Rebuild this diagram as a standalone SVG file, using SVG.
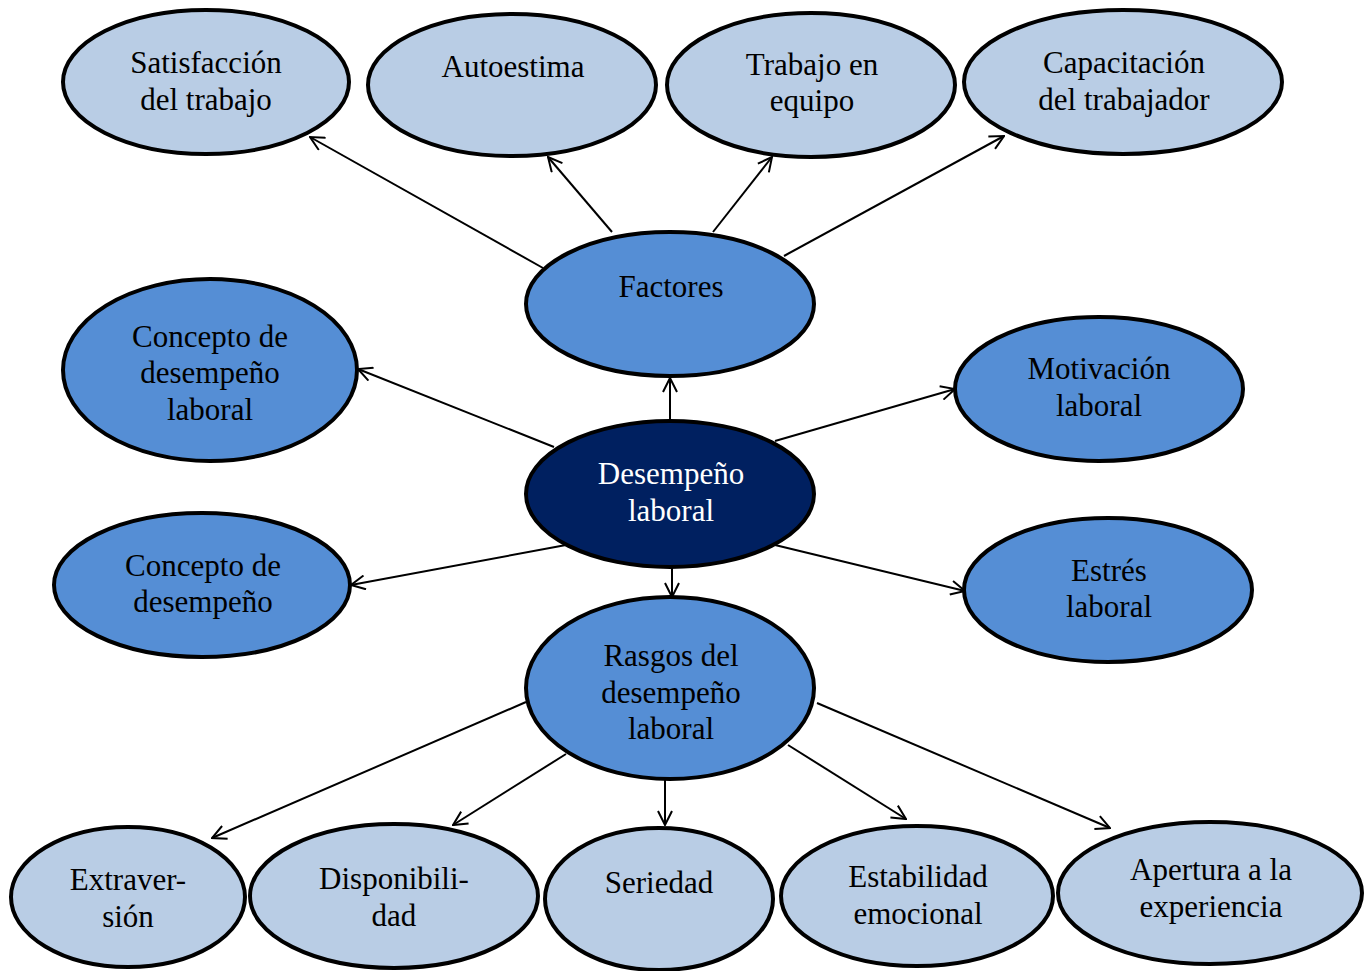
<svg xmlns="http://www.w3.org/2000/svg" width="1371" height="971" viewBox="0 0 1371 971">
<style>
.n ellipse{stroke:#000;stroke-width:4}
.l ellipse{fill:#B9CDE5}
.m ellipse{fill:#558ED5}
.d ellipse{fill:#002060}
text{font-family:"Liberation Serif","Times New Roman",serif;font-size:31px;text-anchor:middle;fill:#000}
.d text{fill:#fff}
#connectors line{stroke:#000;stroke-width:2;marker-end:url(#arr)}
</style>
<defs>
<marker id="arr" viewBox="0 0 16 16" refX="15" refY="8" markerWidth="16" markerHeight="16" orient="auto" markerUnits="userSpaceOnUse">
<path d="M1,1 L15,8 L1,15" fill="none" stroke="#000" stroke-width="2"/>
</marker>
</defs>
<rect width="1371" height="971" fill="#fff"/>
<g id="connectors">
<line x1="543" y1="268" x2="310" y2="137"/>
<line x1="612" y1="232" x2="548" y2="157"/>
<line x1="713" y1="232" x2="772" y2="157"/>
<line x1="784" y1="256" x2="1004" y2="136"/>
<line x1="670" y1="421" x2="670" y2="378"/>
<line x1="554" y1="447" x2="358" y2="369"/>
<line x1="775" y1="441" x2="955" y2="389"/>
<line x1="566" y1="545" x2="351" y2="585"/>
<line x1="775" y1="545" x2="965" y2="591"/>
<line x1="672" y1="568" x2="672" y2="597"/>
<line x1="526" y1="702" x2="212" y2="838"/>
<line x1="566" y1="754" x2="453" y2="825"/>
<line x1="665" y1="779" x2="665" y2="825"/>
<line x1="788" y1="745" x2="906" y2="819"/>
<line x1="817" y1="703" x2="1110" y2="828"/>
</g>
<g id="satisfaccion" class="n l"><ellipse cx="206" cy="82" rx="143" ry="72"/><text x="206" y="73">Satisfacción</text><text x="206" y="110">del trabajo</text></g>
<g id="autoestima" class="n l"><ellipse cx="512" cy="85" rx="144" ry="71"/><text x="513" y="77">Autoestima</text></g>
<g id="trabajo" class="n l"><ellipse cx="811" cy="85" rx="144" ry="72"/><text x="812" y="75">Trabajo en</text><text x="812" y="111">equipo</text></g>
<g id="capacitacion" class="n l"><ellipse cx="1123" cy="82" rx="159" ry="72"/><text x="1124" y="73">Capacitación</text><text x="1124" y="110">del trabajador</text></g>
<g id="factores" class="n m"><ellipse cx="670" cy="304" rx="144" ry="72"/><text x="671" y="297">Factores</text></g>
<g id="concepto-laboral" class="n m"><ellipse cx="210" cy="370" rx="147" ry="91"/><text x="210" y="347">Concepto de</text><text x="210" y="383">desempeño</text><text x="210" y="420">laboral</text></g>
<g id="motivacion" class="n m"><ellipse cx="1099" cy="389" rx="144" ry="72"/><text x="1099" y="379">Motivación</text><text x="1099" y="416">laboral</text></g>
<g id="desempeno" class="n d"><ellipse cx="670" cy="494" rx="144" ry="73"/><text x="671" y="484">Desempeño</text><text x="671" y="521">laboral</text></g>
<g id="concepto" class="n m"><ellipse cx="202" cy="585" rx="148" ry="72"/><text x="203" y="576">Concepto de</text><text x="203" y="612">desempeño</text></g>
<g id="estres" class="n m"><ellipse cx="1108" cy="590" rx="144" ry="72"/><text x="1109" y="581">Estrés</text><text x="1109" y="617">laboral</text></g>
<g id="rasgos" class="n m"><ellipse cx="670" cy="688" rx="144" ry="91"/><text x="671" y="666">Rasgos del</text><text x="671" y="703">desempeño</text><text x="671" y="739">laboral</text></g>
<g id="extraversion" class="n l"><ellipse cx="128" cy="897" rx="117" ry="70"/><text x="128" y="890">Extraver-</text><text x="128" y="927">sión</text></g>
<g id="disponibilidad" class="n l"><ellipse cx="394" cy="896" rx="144" ry="72"/><text x="394" y="889">Disponibili-</text><text x="394" y="926">dad</text></g>
<g id="seriedad" class="n l"><ellipse cx="659" cy="899" rx="114" ry="71"/><text x="659" y="893">Seriedad</text></g>
<g id="estabilidad" class="n l"><ellipse cx="917" cy="896" rx="136" ry="70"/><text x="918" y="887">Estabilidad</text><text x="918" y="924">emocional</text></g>
<g id="apertura" class="n l"><ellipse cx="1210" cy="893" rx="152" ry="71"/><text x="1211" y="880">Apertura a la</text><text x="1211" y="917">experiencia</text></g>
</svg>
